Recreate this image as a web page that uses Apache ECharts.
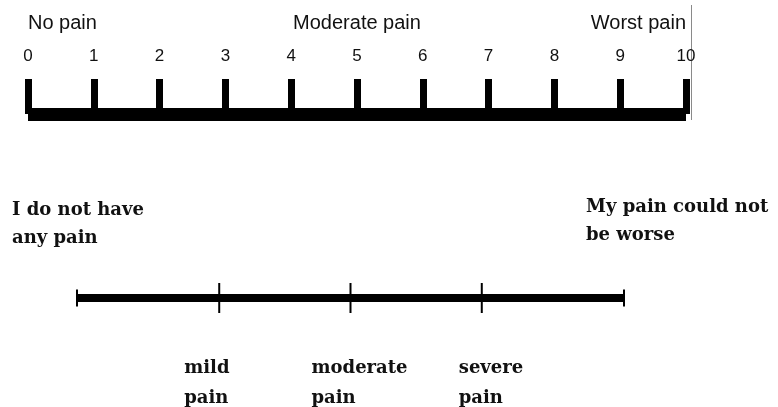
<!DOCTYPE html>
<html>
<head>
<meta charset="utf-8">
<script src="https://cdn.jsdelivr.net/npm/echarts@6/dist/echarts.min.js"></script>
<style>
  html, body { margin: 0; padding: 0; background: #fff; }
  #chart { width: 778px; height: 407px; }
</style>
</head>
<body>
<div id="chart"></div>
<script>
// numeric rating scale (top)
const nrsMin = 0
const nrsMax = 10
const nrsStep = 1
const nrsAnchorValues = [0, 5, 10]
const nrsAnchorNames = ['No pain', 'Moderate pain', 'Worst pain']

// verbal scale (bottom), 0-100
const vasEnds = [0, 100]
const vasEndNames = ['I do not have\nany pain', 'My pain could not\nbe worse']
const vasMarkValues = [26, 50, 74]
const vasMarkNames = ['mild\npain', 'moderate\npain', 'severe\npain']

const sans = '"Liberation Sans", Arial, sans-serif'
const serifBold = '"DejaVu Serif", "Liberation Serif", serif'

const chart = echarts.init(document.getElementById('chart'))

const labelShift = [[-35, 0], [-39, 0], [-23, 0]]

const option = {
  animation: false,
  backgroundColor: '#fff',
  title: [
    {
      text: vasEndNames[0], left: 12, top: 196, padding: 0,
      textStyle: {fontFamily: serifBold, fontWeight: 'bold', fontSize: 18, lineHeight: 28, color: '#111'}
    },
    {
      text: vasEndNames[1], left: 586, top: 193, padding: 0,
      textStyle: {fontFamily: serifBold, fontWeight: 'bold', fontSize: 18, lineHeight: 28, color: '#111'}
    }
  ],
  graphic: [
    {type: 'line', shape: {x1: 691.5, y1: 5, x2: 691.5, y2: 120}, style: {stroke: '#8a8a8a', lineWidth: 1}}
  ],
  grid: [
    {left: 28, right: 92, top: 79, height: 35},
    {left: 77, right: 154, top: 240, height: 58}
  ],
  xAxis: [
    {
      gridIndex: 0, type: 'value', min: nrsMin, max: nrsMax, interval: nrsStep, position: 'bottom',
      axisLine: {show: true, lineStyle: {color: '#000', width: 13, cap: 'butt'}},
      axisTick: {show: true, inside: true, length: 35, lineStyle: {color: '#000', width: 7, cap: 'butt'}},
      axisLabel: {show: false},
      splitLine: {show: false}
    },
    {
      gridIndex: 0, type: 'value', min: nrsMin, max: nrsMax, interval: nrsStep, position: 'top',
      axisLine: {show: false}, axisTick: {show: false}, splitLine: {show: false},
      axisLabel: {show: true, margin: 14, fontFamily: sans, fontSize: 17, color: '#111'}
    },
    {
      gridIndex: 0, type: 'value', min: nrsMin, max: nrsMax, interval: nrsStep, position: 'top',
      axisLine: {show: false}, axisTick: {show: false}, splitLine: {show: false},
      axisLabel: {
        show: true, margin: 46, fontFamily: sans, fontSize: 20, color: '#111',
        alignMinLabel: 'left', alignMaxLabel: 'right',
        formatter: function (v) {
          const i = nrsAnchorValues.indexOf(v)
          return i >= 0 ? nrsAnchorNames[i] : ''
        }
      }
    },
    {
      gridIndex: 1, type: 'value', min: vasEnds[0], max: vasEnds[1], position: 'bottom',
      axisLine: {show: true, onZero: false, lineStyle: {color: '#000', width: 8, cap: 'butt'}},
      axisTick: {show: false}, axisLabel: {show: false}, splitLine: {show: false}
    }
  ],
  yAxis: [
    {gridIndex: 0, type: 'value', min: 0, max: 1, show: false},
    {gridIndex: 1, type: 'value', min: 0, max: 1, show: false}
  ],
  series: [
    {
      type: 'scatter', xAxisIndex: 3, yAxisIndex: 1, clip: false, silent: true,
      symbol: 'rect', symbolSize: [2, 17],
      itemStyle: {color: '#000', opacity: 1},
      data: vasEnds.map(v => [v, 0])
    },
    {
      type: 'scatter', xAxisIndex: 3, yAxisIndex: 1, clip: false, silent: true,
      symbol: 'rect', symbolSize: [2, 30],
      itemStyle: {color: '#000', opacity: 1},
      label: {
        show: true, position: 'bottom', distance: 40, align: 'left',
        fontFamily: serifBold, fontWeight: 'bold', fontSize: 18, lineHeight: 30, color: '#111'
      },
      data: vasMarkValues.map((v, i) => ({
        value: [v, 0],
        label: {formatter: vasMarkNames[i], offset: labelShift[i]}
      }))
    }
  ]
}

chart.setOption(option)
window.addEventListener('resize', function () {
  chart.resize()
})
</script>
</body>
</html>
